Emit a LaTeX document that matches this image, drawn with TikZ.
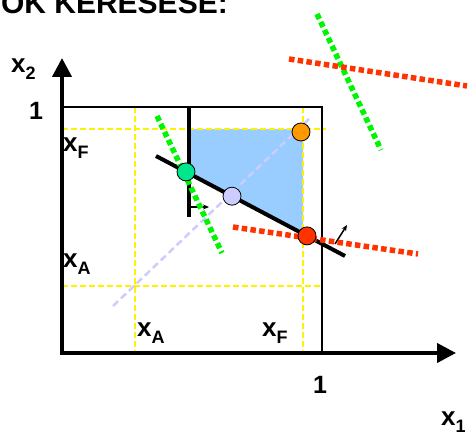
\documentclass[tikz,border=0pt]{standalone}
\usepackage{fontspec}
\setmainfont{Liberation Sans}
\usetikzlibrary{arrows.meta}
\definecolor{regblue}{RGB}{153,204,255}
\definecolor{dotgreen}{RGB}{0,245,0}
\definecolor{dotred}{RGB}{255,51,0}
\definecolor{lav}{RGB}{204,204,255}
\definecolor{mint}{RGB}{0,230,140}
\definecolor{orng}{RGB}{255,153,0}
\newcommand\xsub[1]{x\raisebox{-7pt}{\fontsize{18}{18}\selectfont #1}}
\begin{document}
\begin{tikzpicture}[x=1pt,y=-1pt,
  lab/.style={anchor=base west,inner sep=0pt,font=\fontsize{26}{26}\bfseries\selectfont},
  num/.style={anchor=base,inner sep=0pt,font=\fontsize{25}{25}\bfseries\selectfont},
  ydash/.style={draw=yellow,line width=2.2pt,dash pattern=on 6pt off 3pt},
  lavdash/.style={draw=lav,line width=2.5pt,dash pattern=on 7pt off 4pt},
  gdots/.style={draw=dotgreen,line width=5.5pt,dash pattern=on 5.5pt off 3.3pt},
  rdots/.style={draw=dotred,line width=5.5pt,dash pattern=on 5.5pt off 3.3pt},
  pt/.style={circle,draw=black,line width=0.8pt,minimum size=18pt,inner sep=0pt}]
\useasboundingbox (0,0) rectangle (471,435);
\clip (0,0) rectangle (471,435);
% title (cut off at the top edge, as in the reference)
\node[anchor=base east,inner sep=0pt,font=\fontsize{30}{30}\bfseries\selectfont] (title) at (228,14) {OK KERESESE:};
% feasible region
\fill[regblue] (189,129) -- (303,129) -- (303,233.8) -- (189,173.5) -- cycle;
% yellow dashed guides
\draw[ydash] (135,107) -- (135,353);
\draw[ydash] (303,107) -- (303,353);
\draw[ydash] (62,129) -- (326,129);
\draw[ydash] (62,286) -- (322,286);
% lavender diagonal
\draw[lavdash] (113,306) -- (310,118);
% unit box
\draw[line width=1.5pt] (62,107) -- (322,107) -- (322,353);
% axes
\draw[line width=4pt,{Triangle[length=19pt,width=19pt]}-{Triangle[length=19pt,width=19pt]}] (62,58) -- (62,353) -- (456,353);
% black constraint lines
\draw[line width=4pt] (156,156) -- (345,256);
\draw[line width=3.5pt] (189,108) -- (189,217);
\draw[line width=1.2pt,-{Stealth[length=6pt,width=5pt]}] (189,207) -- (209,207);
\draw[line width=1.5pt,-{Stealth[length=6pt,width=5pt]}] (335,244) -- (347,225);
% dotted lines
\draw[gdots] (157,116) -- (222,253);
\draw[gdots] (317,14) -- (381,150);
\draw[rdots] (289,59) -- (467,86);
\draw[rdots] (233,227) -- (418,254);
% points
\node[pt,fill=mint] (pg) at (186,171.9) {};
\node[pt,fill=lav] (pl) at (232,196.2) {};
\node[pt,fill=orng] (po) at (301,132) {};
\node[pt,fill=dotred] (pr) at (307,235.9) {};
% labels
\node[lab] (lx2) at (11,73) {\xsub{2}};
\node[lab] (lx1) at (441,425) {\xsub{1}};
\node[lab] (lxFy) at (63,152) {\xsub{F}};
\node[lab] (lxAy) at (63,268) {\xsub{A}};
\node[lab] (lxAx) at (137,337) {\xsub{A}};
\node[lab] (lxFx) at (262,337) {\xsub{F}};
\node[num] (one2) at (36,120) {1};
\node[num] (one1) at (320,393) {1};
\end{tikzpicture}
\end{document}
